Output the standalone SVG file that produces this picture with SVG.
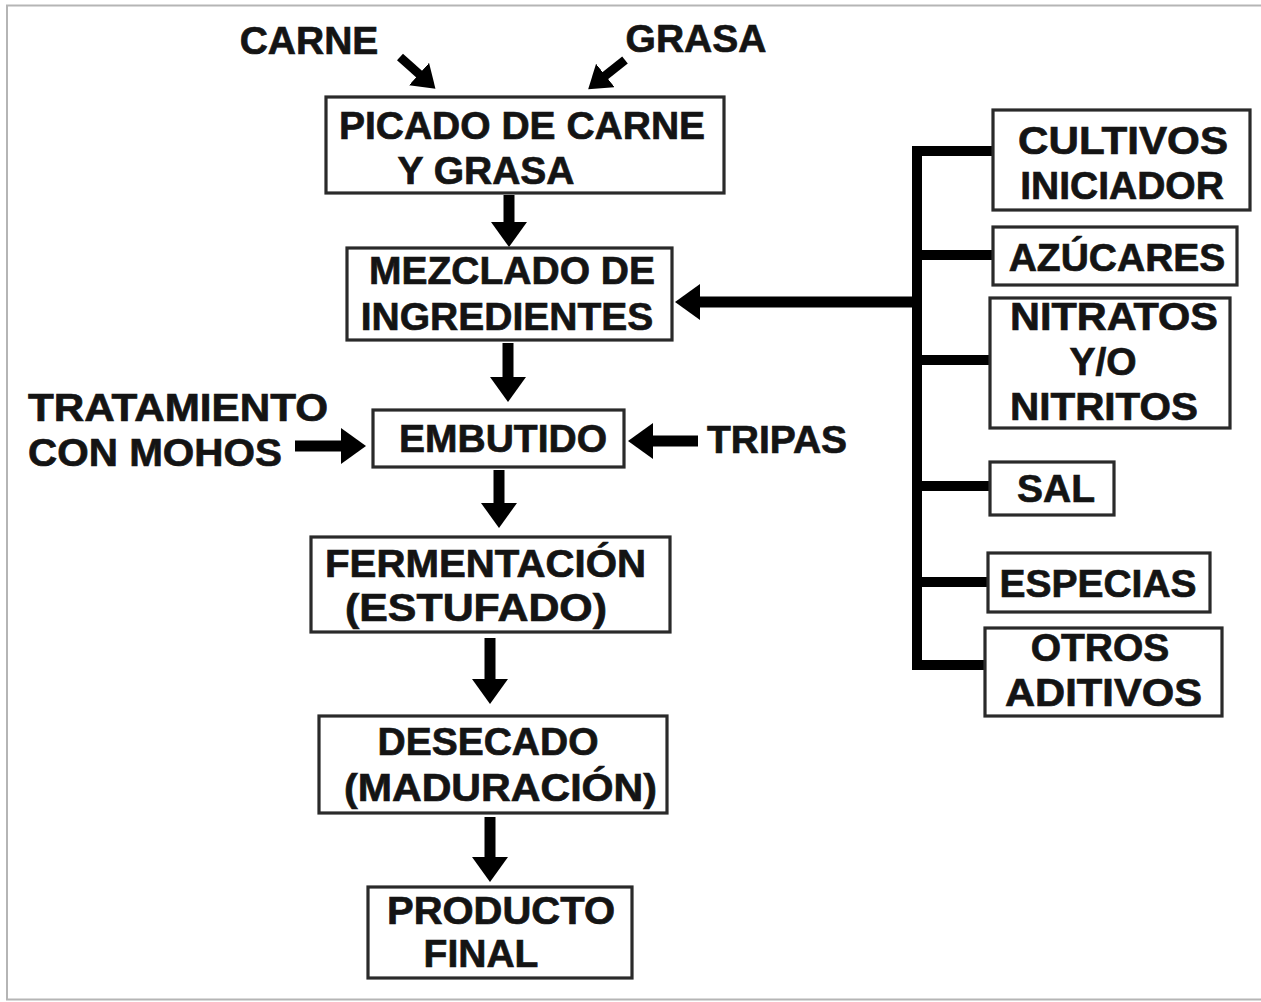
<svg xmlns="http://www.w3.org/2000/svg" width="1261" height="1002" viewBox="0 0 1261 1002">
<style>
.t{font-family:"Liberation Sans",Arial,sans-serif;font-weight:bold;font-size:39px;fill:#141414;text-anchor:middle;stroke:#141414;stroke-width:0.7}
.s{text-anchor:start}
.box{fill:#fff;stroke:#2a2a2a;stroke-width:3.2}
.c{stroke:#000;stroke-width:11;fill:none}
.d{stroke:#000;stroke-width:9;fill:none}
.b{stroke:#000;stroke-width:10;fill:none;stroke-linecap:square}
</style>
<defs>
<marker id="ah" markerUnits="userSpaceOnUse" viewBox="0 0 25 36" refX="13" refY="18" markerWidth="25" markerHeight="36" orient="auto">
<path d="M0,0 L25,18 L0,36 z" fill="#000"/>
</marker>
<marker id="ad" markerUnits="userSpaceOnUse" viewBox="0 0 22 30" refX="12" refY="15" markerWidth="22" markerHeight="30" orient="auto">
<path d="M0,0 L22,15 L0,30 z" fill="#000"/>
</marker>
</defs>
<rect x="0" y="0" width="1261" height="1002" fill="#fff"/>
<rect x="7" y="5.5" width="1262" height="994" fill="#fff" stroke="#b5b5b5" stroke-width="2"/>

<g id="connectors">
<line class="d" x1="400" y1="57" x2="428" y2="82" marker-end="url(#ad)"/>
<line class="d" x1="625" y1="60" x2="596" y2="83" marker-end="url(#ad)"/>
<line class="c" x1="509" y1="195" x2="509" y2="235" marker-end="url(#ah)"/>
<line class="c" x1="915" y1="302" x2="687" y2="302" marker-end="url(#ah)"/>
<line class="c" x1="508" y1="343" x2="508" y2="390" marker-end="url(#ah)"/>
<line class="c" x1="295" y1="446" x2="354" y2="446" marker-end="url(#ah)"/>
<line class="c" x1="698" y1="441" x2="640" y2="441" marker-end="url(#ah)"/>
<line class="c" x1="499" y1="470" x2="499" y2="516" marker-end="url(#ah)"/>
<line class="c" x1="490" y1="638" x2="490" y2="692" marker-end="url(#ah)"/>
<line class="c" x1="490" y1="817" x2="490" y2="870" marker-end="url(#ah)"/>
<path class="b" d="M993,151 H917 V665 H985"/>
<line class="b" x1="917" y1="255" x2="993" y2="255"/>
<line class="b" x1="917" y1="360" x2="990" y2="360"/>
<line class="b" x1="917" y1="486" x2="990" y2="486"/>
<line class="b" x1="917" y1="582" x2="988" y2="582"/>
</g>

<g id="carne"><text class="t" x="309" y="54">CARNE</text></g>
<g id="grasa"><text class="t" x="696" y="52">GRASA</text></g>

<g id="picado">
<rect class="box" x="326" y="97" width="398" height="96"/>
<text class="t" x="522" y="139">PICADO DE CARNE</text>
<text class="t" x="486" y="184">Y GRASA</text>
</g>

<g id="mezclado">
<rect class="box" x="347" y="248" width="325" height="92"/>
<text class="t" x="512" y="284">MEZCLADO DE</text>
<text class="t" x="507" y="330">INGREDIENTES</text>
</g>

<g id="tratamiento">
<text class="t s" x="28" y="421" textLength="300" lengthAdjust="spacingAndGlyphs">TRATAMIENTO</text>
<text class="t s" x="28" y="466" textLength="254" lengthAdjust="spacingAndGlyphs">CON MOHOS</text>
</g>

<g id="embutido">
<rect class="box" x="373" y="410" width="251" height="57"/>
<text class="t" x="503" y="452">EMBUTIDO</text>
</g>

<g id="tripas"><text class="t" x="777" y="453">TRIPAS</text></g>

<g id="fermentacion">
<rect class="box" x="311" y="537" width="359" height="95"/>
<text class="t s" x="325" y="577" textLength="321" lengthAdjust="spacingAndGlyphs">FERMENTACIÓN</text>
<text class="t s" x="345" y="621" textLength="262" lengthAdjust="spacingAndGlyphs">(ESTUFADO)</text>
</g>

<g id="desecado">
<rect class="box" x="319" y="716" width="348" height="97"/>
<text class="t" x="488" y="755">DESECADO</text>
<text class="t s" x="344" y="801" textLength="313" lengthAdjust="spacingAndGlyphs">(MADURACIÓN)</text>
</g>

<g id="producto">
<rect class="box" x="368" y="887" width="264" height="91"/>
<text class="t s" x="387" y="924" textLength="228" lengthAdjust="spacingAndGlyphs">PRODUCTO</text>
<text class="t" x="481" y="967">FINAL</text>
</g>

<g id="cultivos">
<rect class="box" x="993" y="110" width="257" height="100"/>
<text class="t s" x="1018" y="154" textLength="210" lengthAdjust="spacingAndGlyphs">CULTIVOS</text>
<text class="t" x="1122" y="199">INICIADOR</text>
</g>

<g id="azucares">
<rect class="box" x="993" y="227" width="244" height="58"/>
<text class="t" x="1117" y="271">AZÚCARES</text>
</g>

<g id="nitratos">
<rect class="box" x="990" y="298" width="240" height="130"/>
<text class="t s" x="1010" y="330" textLength="208" lengthAdjust="spacingAndGlyphs">NITRATOS</text>
<text class="t" x="1103" y="375">Y/O</text>
<text class="t s" x="1010" y="420" textLength="188" lengthAdjust="spacingAndGlyphs">NITRITOS</text>
</g>

<g id="sal">
<rect class="box" x="990" y="462" width="124" height="53"/>
<text class="t" x="1056" y="502">SAL</text>
</g>

<g id="especias">
<rect class="box" x="988" y="553" width="222" height="59"/>
<text class="t" x="1098" y="597">ESPECIAS</text>
</g>

<g id="otros">
<rect class="box" x="985" y="628" width="237" height="88"/>
<text class="t" x="1100" y="661">OTROS</text>
<text class="t s" x="1005" y="706" textLength="197" lengthAdjust="spacingAndGlyphs">ADITIVOS</text>
</g>
</svg>
